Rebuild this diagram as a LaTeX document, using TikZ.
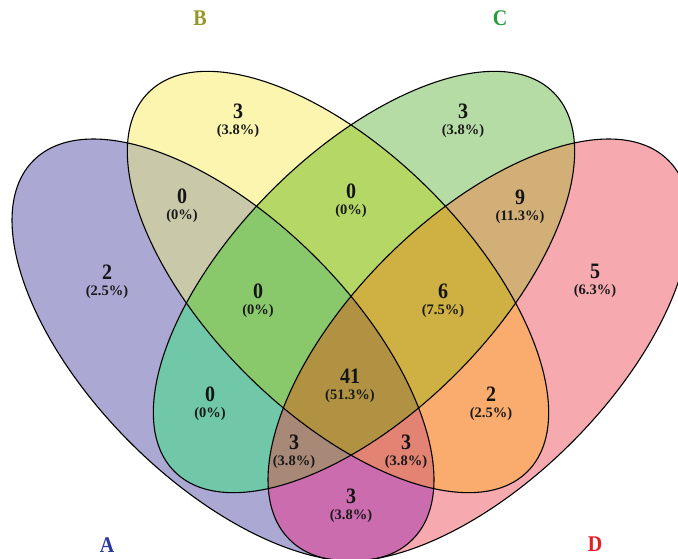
\documentclass[tikz,border=0pt]{standalone}
\usepackage{fontspec}
\setmainfont{Liberation Serif}
\definecolor{fA}{RGB}{171,168,212}
\definecolor{fB}{RGB}{251,245,176}
\definecolor{fC}{RGB}{182,220,166}
\definecolor{fD}{RGB}{246,170,176}
\definecolor{fAB}{RGB}{201,201,170}
\definecolor{fAC}{RGB}{112,200,168}
\definecolor{fAD}{RGB}{203,108,175}
\definecolor{fBC}{RGB}{181,215,102}
\definecolor{fBD}{RGB}{249,172,110}
\definecolor{fCD}{RGB}{211,175,120}
\definecolor{fABC}{RGB}{138,200,108}
\definecolor{fABD}{RGB}{227,131,115}
\definecolor{fACD}{RGB}{168,136,118}
\definecolor{fBCD}{RGB}{207,176,67}
\definecolor{fABCD}{RGB}{176,146,66}
\definecolor{labA}{RGB}{45,55,160}
\definecolor{labB}{RGB}{150,150,40}
\definecolor{labC}{RGB}{40,155,60}
\definecolor{labD}{RGB}{230,30,35}
\begin{document}
\begin{tikzpicture}[x=1pt,y=-1pt,
  rA/.style={rotate around={-45:(223,350)}},
  rB/.style={rotate around={-45:(338,282)}},
  rC/.style={rotate around={45:(364,282)}},
  rD/.style={rotate around={45:(479,350)}},
  num/.style={font=\fontsize{20}{20}\selectfont\bfseries, text=black!92, inner sep=0pt},
  pct/.style={font=\fontsize{14.5}{14.5}\selectfont\bfseries, text=black!90, inner sep=0pt},
  setlab/.style={font=\fontsize{20}{20}\selectfont\bfseries, inner sep=0pt},
  outline/.style={draw=black, line width=1.1pt}]
\newcommand\ellA{(223,350) ellipse [x radius=268, y radius=131]}
\newcommand\ellB{(338,282) ellipse [x radius=268, y radius=130]}
\newcommand\ellC{(364,282) ellipse [x radius=268, y radius=130]}
\newcommand\ellD{(479,350) ellipse [x radius=268, y radius=131]}
\newcommand\lab[5]{%
  \node[num] (n#1) at (#2,#3-0.5) {\scalebox{1}[1.1]{#4}};
  \node[pct] (p#1) at (#2,#3+19) {#5};}
\useasboundingbox (0,0) rectangle (678,559);
\begin{scope}
\clip (0,0) rectangle (678,559);
% single sets
\fill[fA,rA] \ellA;
\fill[fB,rB] \ellB;
\fill[fC,rC] \ellC;
\fill[fD,rD] \ellD;
% pairs
\begin{scope}\clip[rA] \ellA; \fill[fAB,rB] \ellB; \fill[fAC,rC] \ellC; \fill[fAD,rD] \ellD;\end{scope}
\begin{scope}\clip[rB] \ellB; \fill[fBC,rC] \ellC; \fill[fBD,rD] \ellD;\end{scope}
\begin{scope}\clip[rC] \ellC; \fill[fCD,rD] \ellD;\end{scope}
% triples
\begin{scope}\clip[rA] \ellA; \clip[rB] \ellB; \fill[fABC,rC] \ellC; \fill[fABD,rD] \ellD;\end{scope}
\begin{scope}\clip[rA] \ellA; \clip[rC] \ellC; \fill[fACD,rD] \ellD;\end{scope}
\begin{scope}\clip[rB] \ellB; \clip[rC] \ellC; \fill[fBCD,rD] \ellD;\end{scope}
% all four
\begin{scope}\clip[rA] \ellA; \clip[rB] \ellB; \clip[rC] \ellC; \fill[fABCD,rD] \ellD;\end{scope}
% outlines
\draw[outline,rA] \ellA;
\draw[outline,rB] \ellB;
\draw[outline,rC] \ellC;
\draw[outline,rD] \ellD;
\end{scope}
% region labels
\lab{B}{238}{112}{3}{(3.8\%)}
\lab{C}{463}{112}{3}{(3.8\%)}
\lab{AB}{182}{197}{0}{(0\%)}
\lab{A}{107}{273}{2}{(2.5\%)}
\lab{D}{595}{272}{5}{(6.3\%)}
\lab{CD}{520}{198}{9}{(11.3\%)}
\lab{BC}{351}{192}{0}{(0\%)}
\lab{ABC}{258}{292}{0}{(0\%)}
\lab{BCD}{443}{292}{6}{(7.5\%)}
\lab{ABCD}{350}{377}{41}{(51.3\%)}
\lab{AC}{210}{395}{0}{(0\%)}
\lab{BD}{491}{395}{2}{(2.5\%)}
\lab{ACD}{294}{443}{3}{(3.8\%)}
\lab{ABD}{406}{443}{3}{(3.8\%)}
\lab{AD}{351}{497}{3}{(3.8\%)}
% set labels
\node[setlab, text=labA] (sA) at (107,545) {\scalebox{1}[1.12]{A}};
\node[setlab, text=labB] (sB) at (200,18) {\scalebox{1}[1.12]{B}};
\node[setlab, text=labC] (sC) at (500,18) {\scalebox{1}[1.12]{C}};
\node[setlab, text=labD] (sD) at (595,544) {\scalebox{1}[1.12]{D}};
\end{tikzpicture}
\end{document}
